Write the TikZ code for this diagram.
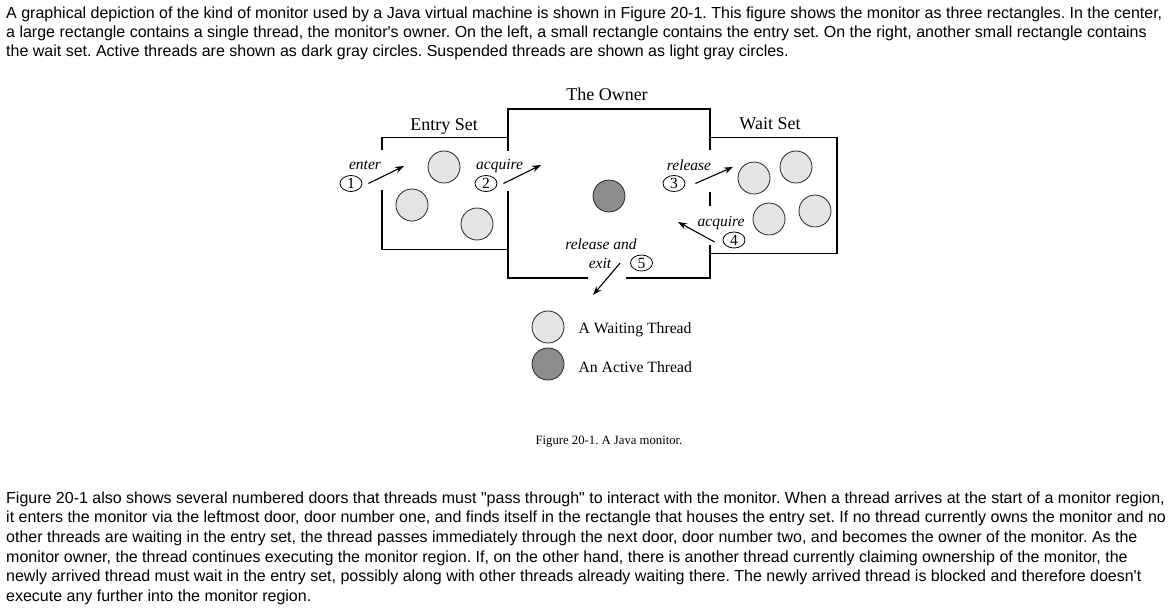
\documentclass[tikz,border=0pt]{standalone}
\usepackage{fontspec}
\setmainfont{Liberation Serif}
\newfontfamily\arialfont{Liberation Sans}
\usetikzlibrary{calc,positioning,arrows.meta,shapes.geometric}
\definecolor{waitgray}{RGB}{228,228,228}
\definecolor{activegray}{RGB}{140,140,140}
\frenchspacing

\begin{document}
\begin{tikzpicture}[x=1pt,y=-1pt,
  para/.style={font=\arialfont\fontsize{16}{19}\selectfont,anchor=base west,inner sep=0pt},
  box/.style={line width=1.7pt},
  thread/.style={circle,draw=black!85,line width=0.8pt,minimum size=32pt,inner sep=0pt},
  door/.style={ellipse,draw,line width=0.8pt,minimum width=22pt,minimum height=16pt,inner sep=0pt,font=\fontsize{15.5}{15}\selectfont},
  act/.style={font=\fontsize{15.5}{16}\selectfont\itshape,inner sep=0pt,anchor=base},
  title/.style={font=\fontsize{18}{20}\selectfont,inner sep=0pt,anchor=base},
  legend/.style={font=\fontsize{15.7}{17}\selectfont,inner sep=0pt},
  flow/.style={-{Stealth[length=9pt,width=6.5pt]},line width=1.1pt}]

% page
\fill[white] (0,0) rectangle (1173,611);
\useasboundingbox (0,0) rectangle (1173,611);

% text above the figure
\node[para] (top1) at (6,18.3) {A graphical depiction of the kind of monitor used by a Java virtual machine is shown in Figure 20-1. This figure shows the monitor as three rectangles. In the center,};
\node[para] (top2) at (6,37.5) {a large rectangle contains a single thread, the monitor\textquotesingle s owner. On the left, a small rectangle contains the entry set. On the right, another small rectangle contains};
\node[para] (top3) at (6,56.7) {the wait set. Active threads are shown as dark gray circles. Suspended threads are shown as light gray circles.};

% the three rectangles, with gaps for the doors
\draw[box] (508,137.5) -- (382,137.5) -- (382,150) (382,190) -- (382,249.5) -- (508,249.5);
\draw[box] (588,278) -- (508,278) -- (508,191) (508,151) -- (508,109) -- (710,109) -- (710,150)
  (710,192) -- (710,206) (710,245) -- (710,278) -- (626,278);
\draw[box] (710,137.5) -- (837,137.5) -- (837,253.5) -- (710,253.5);

% titles
\node[title] (entryt) at (444,130) {Entry Set};
\node[title] (ownert) at (607,100.5) {The Owner};
\node[title] (waitt) at (770,129) {Wait Set};

% threads
\node[thread,fill=waitgray] (e1) at (444,167) {};
\node[thread,fill=waitgray] (e2) at (412,205) {};
\node[thread,fill=waitgray] (e3) at (477,224) {};
\node[thread,fill=activegray] (own) at (609,196) {};
\node[thread,fill=waitgray] (w1) at (754,178) {};
\node[thread,fill=waitgray] (w2) at (796,167) {};
\node[thread,fill=waitgray] (w3) at (769,219) {};
\node[thread,fill=waitgray] (w4) at (815,211) {};

% doors and their labels
\node[door] (d1) at (351,183.5) {1};
\node[door] (d2) at (486,183.5) {2};
\node[door] (d3) at (674,183.5) {3};
\node[door] (d4) at (734,240) {4};
\node[door] (d5) at (641.5,263) {5};
\node[act] (l1) at (365,169) {enter};
\node[act] (l2) at (499.5,169) {acquire};
\node[act] (l3) at (689,170) {release};
\node[act] (l4) at (721,226) {acquire};
\node[act] (l5a) at (601,249) {release and};
\node[act] (l5b) at (600,268) {exit};

% arrows through the doors
\coordinate (in1) at (404,166);
\coordinate (in2) at (541,165);
\coordinate (in3) at (733,167);
\coordinate (in4) at (678,222);
\coordinate (out5) at (593,295);
\draw[flow] ([xshift=6pt]d1.east) -- (in1);
\draw[flow] ([xshift=6pt]d2.east) -- (in2);
\draw[flow] ([xshift=10pt]d3.east) -- (in3);
\draw[flow] ([xshift=-8pt,yshift=-2pt]d4.west) -- (in4);
\draw[flow] ([xshift=-10pt]d5.west) -- (out5);

% legend
\node[thread,fill=waitgray] (lw) at (548,327) {};
\node[thread,fill=activegray] (la) at (548,364) {};
\node[legend,right=14pt of lw,yshift=-3pt] (lwt) {A Waiting Thread};
\node[legend,right=14pt of la,yshift=-3pt] (lat) {An Active Thread};

% caption
\node[inner sep=0pt,anchor=base,font=\fontsize{12.7}{14}\selectfont] (cap) at (609,444) {Figure 20-1. A Java monitor.};

% text below the figure
\node[para] (bot1) at (6,503) {Figure 20-1 also shows several numbered doors that threads must "pass through" to interact with the monitor. When a thread arrives at the start of a monitor region,};
\node[para] (bot2) at (6,522.7) {it enters the monitor via the leftmost door, door number one, and finds itself in the rectangle that houses the entry set. If no thread currently owns the monitor and no};
\node[para] (bot3) at (6,542.4) {other threads are waiting in the entry set, the thread passes immediately through the next door, door number two, and becomes the owner of the monitor. As the};
\node[para] (bot4) at (6,562) {monitor owner, the thread continues executing the monitor region. If, on the other hand, there is another thread currently claiming ownership of the monitor, the};
\node[para] (bot5) at (6,581.8) {newly arrived thread must wait in the entry set, possibly along with other threads already waiting there. The newly arrived thread is blocked and therefore doesn\textquotesingle t};
\node[para] (bot6) at (6,601.5) {execute any further into the monitor region.};

\end{tikzpicture}
\end{document}
